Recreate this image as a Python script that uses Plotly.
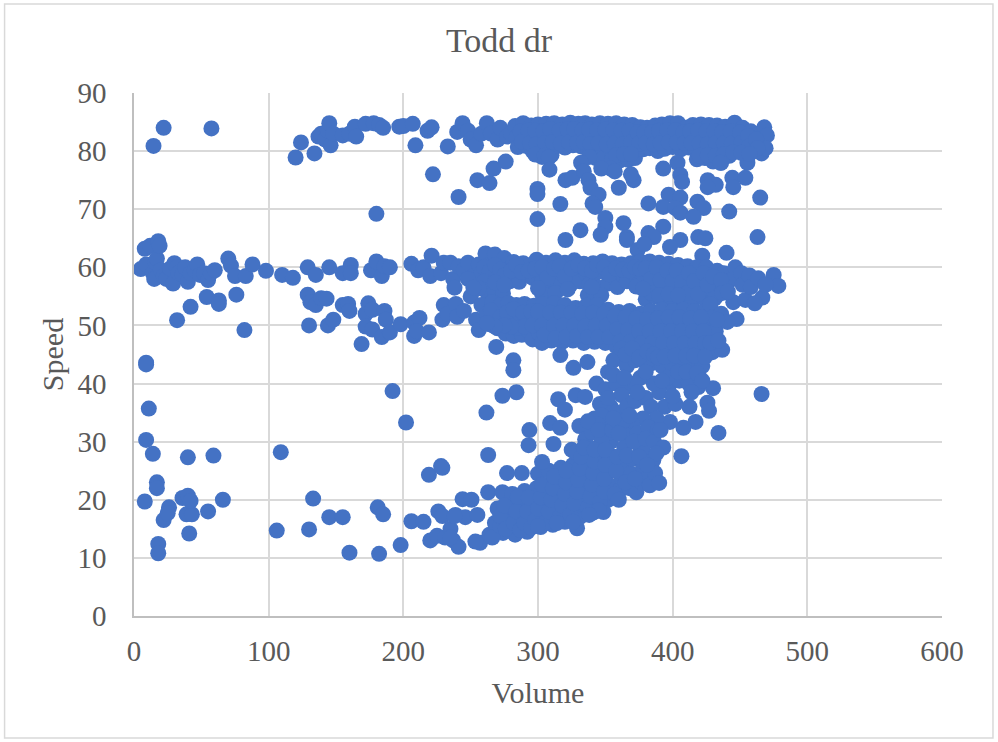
import plotly.graph_objects as go

TITLE = "Todd dr"
X_TITLE = "Volume"
Y_TITLE = "Speed"
X_TICKS = [0, 100, 200, 300, 400, 500, 600]
Y_TICKS = [0, 10, 20, 30, 40, 50, 60, 70, 80, 90]

top_sparse = [(14.5,80.9),(22,84),(57.5,83.9),(120,78.9),(124,81.5),(134,79.6),(137,82.5),(139,83),(142,82),(144,83.5),
(145,84.8),(146,81),(148,83),(155,82.7),(160,83),(164,84.2),(165,82.5),(172,84.7),(178,84.8),(182,84.5),(185,84),
(197,84.2),(200,84.3),(207,84.7),(209,81),(218,83.5),(221,84.1),(222,76),(233,80.8),(240,83.3),(241,72.1),(244,84.8),
(248,83.5),(250,82),(254,81),(255,75),(258,83),(262,84.8),(264,74.5),(265,83),(267,77),(270,82),(272,84),(276,78.2),
(277,82.5),(280,83)]

top_dense = [
(283,84.3),(284,82.4),(285,80.7),(289,84.8),(290,82.7),(291,80.9),(295,84.4),(296,82.2),(296,80),(300,84.6),(301,82.6),(302,80.2),
(303,79),(306,84.7),(307,82.3),(308,80.5),(310,79.3),(312,84.8),(313,82.8),(314,80.9),(318,84.6),(319,82.2),(320,80.6),
(324,84.9),(325,82.7),(326,81),(330,84.7),(331,82.4),(332,80.8),(335,84.8),(336,82.8),(337,80.4),(340,84.6),(341,82.2),
(342,80),(343,78.8),(346,84.8),(347,82.6),(348,80.3),(349,78.9),(352,84.7),(353,82.3),(354,80.1),(355,78.6),(358,84.8),
(359,82.7),(360,80),(361,78.4),(364,84.6),(365,82.3),(366,80.2),(367,78.5),(370,84.5),(371,82.6),(372,80.6),(372,78.8),
(376,84.1),(377,82),(378,80.3),(381,84),(382,82.5),(383,80.5),(387,84.4),(388,82.1),(389,80),(392,84.6),(393,82.6),
(394,80.4),(398,84.8),(399,82.2),(400,80.7),(404,84.8),(405,82.6),(406,80.3),(410,84),(411,82.2),(412,80.6),(415,84.5),
(416,82.4),(417,80.2),(418,78.6),(421,84.6),(422,82.7),(423,80),(424,78.8),(427,84.5),(428,82.1),(429,80.3),(430,78.2),
(433,84.4),(434,82.6),(435,80.5),(436,78),(439,84.2),(440,82.3),(441,80.2),(442,79.2),(446,84.9),(447,82.5),(448,80.4),
(452,84),(453,82.3),(454,80.6),(455.5,78),(458,83.4),(459,81.8),(460,80),(464,83),(465,81.3),(466,79.6),(468,84.1),
(470,82.7),(469,80.5)]

top_fill = [(287,83.4),(288,81.6),(293,83.6),(294,81.4),(298,83.5),(299,81.2),(304,83.4),(305,81.4),(309,83.8),(311,81.6),
(316,83.6),(317,81.3),(322,83.7),(323,81.5),(327,83.8),(329,81.4),(333,83.6),(334,81.6),(338,83.7),(339,81.2),(344,83.6),
(345,81.4),(350,83.7),(351,81.2),(356,83.6),(357,81.3),(362,83.5),(363,81.2),(368,83.5),(369,81.5),(374,83.2),(375,81.3),
(379,83.2),(380,81.4),(385,83.3),(386,81.2),(390,83.5),(391,81.4),(396,83.6),(397,81.5),(402,83.6),(403,81.5),(408,83.2),
(409,81.4),(413,83.4),(414,81.4),(419,83.6),(420,81.3),(425,83.4),(426,81.2),(431,83.4),(432,81.4),(437,83.3),(438,81.3),
(443,83.4),(444,81.3),(450,83.2),(451,81.4),(456,82.6),(457,80.9),(462,82),(463,80.5),(338,79),(358,79.3),(364,79.5),
(369,79.5),(420,79.2),(426,79.3),(432,79.2),(438,79.4),(445,79.8),(451,79.7),(457,79.5),(298,79.4),(305,79.2),(308,78.9)]

upper_gap = [(299.6,73.5),(299.6,72.6),(308.5,76.8),(316.6,70.9),(299.6,68.3),(320.4,75),(325.5,75.4),(332,78),(334,76.5),
(337.5,75),(339,73.7),(345,72.5),(340.5,71),(342.5,70.4),(350,68.5),(350,67),(346.5,65.6),(331.5,66.4),(320.4,64.7),
(354,77),(360,73.7),(371,75),(363.5,67.6),(366,65.2),(366,64.7),(382,71),(393,77),(403.6,78),(405.7,75.9),(407,74.7),
(397,72.5),(405.7,72),(393,70.4),(402,70.2),(405.7,69.4),(382,65.9),(393,67),(386,65.2),(405.7,64.7),(418.4,71.3),
(423,70.2),(415.5,68.7),(419,65.2),(424.3,65),(426,75),(432,74.2),(426,73.8),(442,69.6),(444.3,75.4),(454,75.4),
(445,73.8),(465,72),(463,65.2),(435.5,78),(440,62.5),(422,62),(347,77),(369,76),(374,63),(379,64),(398,63.5),(357,76.5)]

mid_left = [(5,59.7),(8,63.2),(9,60.5),(12,63.7),(14,59),(16,60.8),(15,58),(17,61.5),(18,64.5),(19,63.7),(20,59.5),(22,58.5),
(24,58),(27,59.8),(29,57.2),(30,60.7),(32,60),(33,59),(36,58.8),(38,60),(40,57.5),(42,59),(45,59.5),(47,60.5),(49,58.7),
(52,59),(55,57.8),(57,59),(60,59.5),(70,61.5),(72,60.3),(75,58.5),(83,58.5),(88,60.5),(98,59.4),(110,58.7),(118,58.2),
(129,60),(135,58.7),(145,60),(155,59),(161,60.4),(161,59),(176,59.5),(180,61),(184,58.5),(186,60.2),(190,60),(206,60.6),
(211,59.5),(215,60),(220,58.5),(221,62),(228,59),(230,60.8),(235,60.8),(237,58),(241,60.2),(245,59.5),(248,60.8),(252,58.5)]

mid_dense = [
(256,60.5),(258,59),(261,62.4),(263,60.3),(265,58.4),(268,62.2),(270,60),(272,58),(275,61.6),(277,59.6),(279,57.6),(282,60.9),
(284,59),(286,57.5),(289,60.7),(291,58.8),(294,60.3),(296,58.2),(299,61.3),(301,59.4),(303,57.6),(306,60.8),(308,59),
(310,57.2),(313,61.2),(315,59.4),(317,57.5),(320,60.8),(322,58.8),(324,57),(327,61.2),(329,59.3),(331,57.6),(334,60.6),
(336,58.9),(338,57),(341,60.7),(343,59),(345,56.5),(348,61),(350,59.2),(352,57.2),(355,60.7),(357,58.7),(359,56.6),
(362,60.5),(364,58.4),(366,57.6),(369,60.7),(371,59),(373,56.7),(376,61),(378,58.9),(380,56.5),(380,54.5),(383,61),
(385,59),(387,57),(387,55),(390,60.8),(392,58.7),(394,56.6),(394,54.3),(397,60.6),(399,58.5),(401,56.4),(401,54.4),
(404,60.4),(406,58.4),(408,56.3),(408,54.5),(411,60.2),(413,58),(415,56.2),(415,54.2),(418,60),(420,58.3),(422,56),(424,54.6),
(425,60),(427,58.1),(429,56),(433,59.4),(434,57.4),(433,55.2),(438,59),(440,57),(446.5,60),(445,58),(445,54),(451,59),
(452,57),(454,54.4),(457,58.6),(458,56.6),(463.6,58.1),(466.6,54.8),(461,53.8),(475,58.7),(478.5,56.8),(469,57)]

mid_fill = [(260,60),(264,59.3),(268,60.4),(272,59.6),(275,58.6),(280,59.4),(284,60.4),(288,59.2),(293,59.4),(298,59.8),(303,60),
(307,58.2),(312,59.8),(316,60.2),(320,58.4),(325,59.8),(330,60.4),(335,59.8),(340,59.4),(344,60.4),(349,60),(353,58.8),(358,59.8),
(363,59.6),(368,59.4),(372,60),(376,59.7),(380,59.8),(384,58),(388,60),(391,57.8),(396,59.4),(400,57.6),(403,59.4),(407,57.4),
(411,55.6),(412,59),(416,57.6),(419,55.4),(423,59),(426,57),(430,58.4),(436,57.8),(431,54.6),(437,55.6),(441,55.8),(303,55.5),
(309,55.3),(313,55.6),(262,55.8),(268,55.6),(274,55.5),(337,55.2),(342,55.4),(347,55.2),(384,55.6),(390,55.2),(397,55.4),
(404,55.2),(260,57.5),(268,57.4),(275,57),(300,56.4),(322,56.2),(340,56.6),(378,56.3),(256,56.4)]

band50_left = [(32,50.9),(42,53.2),(54,54.9),(63,54.3),(63,53.7),(76,55.3),(82,49.2),(129,55.3),(131,54),(130,50),(135,53.5),
(139,54.7),(143,54.6),(144,50),(148,51),(155,53.5),(159,53.7),(160,52.5),(169,46.8),(172,52),(172,49.8),(174,53.8),(177,52.7),
(177,49.3),(184,48),(186,52.5),(187,51),(190,48.8),(198,50.2),(208,50.5),(208,48.2),(212,51.3),(210,49),(219,48.8),(229,51),
(230,53.5),(233,52),(238,56.5),(239,53.7),(240,51.5),(245,52.5),(248,58),(250,55),(252,56.5),(254,51),(256,49.2),(258,53.5)]

band50_dense = [
(262,52),(264,50.2),(266,54),(268,51.5),(270,49.5),(272,53.5),(274,51),(276,48.6),(278,53.8),(280,51.2),(282,48.2),(284,53.5),
(286,50.8),(288,48.4),(290,53.7),(292,51.4),(294,48.8),(296,47.6),(297,53.4),(299,51),(301,48.6),(303,47),(304,53.7),
(306,51.2),(308,49),(310,47.4),(312,53.8),(314,51),(316,48.7),(318,47.2),(320,53.5),(322,51.3),(324,49),(326,47.4),
(328,53),(330,50.8),(332,48.6),(334,47),(336,53.4),(338,51),(340,48.8),(342,47.2),(344,53.5),(346,51.2),(348,49),(350,47),
(352,52.7),(354,50.7),(356,48.5),(358,46.4),(360,52.3),(362,50.3),(364,48),(366,46),(368,52.5),(370,50.2),(372,48),(374,46),
(376,52),(378,50),(380,48),(382,46),(384,52.5),(386,50),(388,48),(390,46),(392,52.7),(394,50.4),(396,48),(398,45.8),
(400,52.5),(402,50.2),(404,48),(406,46),(408,52.7),(410,50),(412,48),(414,45.8),(416,52.5),(418,50.3),(420,48.2),(421,45.8),
(424,52.5),(425,50.4),(426,48),(429.5,45.4),(428,53.6),(430,51.4),(432,49),(436.8,45.8),(436,52),(447.5,51.1),(440.6,50.6)]

band50_fill = [(265,52.6),(272,51.4),(277,52.2),(282,52.8),(285,49.6),(289,52.2),(290,49.8),(295,52.4),(296,50),(300,52.4),(303,50),
(305,48.4),(309,52.2),(312,50),(313,47.8),(317,52.2),(319,50),(321,48),(325,52.2),(327,50),(329,48.2),(333,52),(335,49.8),
(337,48),(341,52.2),(343,50),(345,48),(349,52),(351,50),(353,48),(357,51.6),(359,49.4),(361,47.2),(365,51.4),(367,49.2),
(369,47.2),(373,51.2),(375,49),(377,47),(381,51),(383,49),(385,47),(389,51.2),(391,49),(393,47),(397,51.4),(399,49),(401,47),
(405,51.4),(407,49),(409,47),(413,51.2),(415,49),(417,47),(421,51.4),(423,49),(424,47),(433,51),(428,47),(434,47.4),(280,49.8),
(275,50),(268,49.8),(262,50.4)]

lower_mid = [(269,46.3),(281.7,44),(281.7,42.3),(316.6,44.9),(326.3,42.7),(336.7,43.7),(284,38.5),(343.4,40),(466,38.2),
(273.6,37.9),(261.7,35),(293.6,32),(293,29.4),(263,27.7),(311.5,29.6),(330.7,32.7),(434,31.5),(406.5,27.5),(417,33.4),
(408,32.4),(398,33.4),(425.8,36.7),(427,35.3),(412.5,36),(430,39.2),(419,39.4),(315,37.3),(320,35.5),(328,38),(335,37.7),
(309,33.2),(316.6,32.4),(352,42),(356,44),(362,46),(350,39),(358,40),(366,43),(372,44),(378,44),(384,43.5),(392,43),
(400,43),(408,43.5),(416,43),(422,43),(398,40),(405,40.5),(412,40),(420,41),(390,38.5),(394,36),(402,36.5),(396,41),
(386,40),(376,41),(368,39.5),(362,38),(354,36),(346,36.5),(342,34),(350,33),(358,35),(366,36),(372,37),(380,37.5),
(384,36),(388,34),(378,34),(370,33),(362,31.5),(354,30)]

lower_fill = [(356,41.5),(365,45),(370,46),(375,44.5),(380,42),(381,45.5),(386,45),(389,44.5),
(394,44.6),(402,44.8),(404,42),(410,44.8),(410,42),(416,44.8),(418,41.8),(424,44.6),(422,40.5),(392,40.5),(372,40),
(364,41),(352,37.5),(347,34.5),(352,31.5),(357,32.5),(363,33.5),(368,34.5),(374,38.5),(367,31),(374,31.5),(382,32.5),(389,32),(376,29),
(335,30.4),(340,31.6),(329,27.6),(344,33),(325,28.6),(337,33.5),(400,37.8),(414,38.5)]

diag_blob = [
(244,20.1),(250.6,20),(238.7,17.4),(246,17),(255,17.4),(237,13),(241,11.9),(257,12.6),(253.5,12.8),(263,21.3),(273.6,21.3),(277,24.6),
(288,24.6),(329,15.1),(264,14),(268,16),(270,18.5),(274,14.3),(277,16.5),(279,19),(281,21),(283,14),(286,16.5),(288,19),
(290,21.5),(292,14.5),(295,17),(297,19.5),(299,22),(300,24.5),(302,15.3),(304,17.5),(306,20),(307,22.5),(308,25),(303,26.5),
(311,15.7),(313,18),(315,20.5),(316,23),(317,25.5),(320,16.2),(322,18.6),(324,21),(325,23.5),(326,26),(328,28.2),(331,17),
(333,19.2),(335,21.5),(336,24),(337,26.5),(338,29),(341,17.8),(343,20),(345,22.5),(345,25),(346,27.5),(347,30),(345,32),
(348.6,17.9),(352,20),(353,22.5),(354,25),(355,27.5),(355,32),(356,34),(361,21.7),(362,24),(363,26.5),(364,29),(368,22),
(369,24.5),(370,27),(371,30),(373,21.3),(377,23),(378,25.5),(379,28),(380,30.5),(382,24),(383,22.5),(385.6,26.8),(386,30),
(387,24.6),(390,22.9),(393,29),(388,28),(391,32)]

diag_fill = [(266,13.5),(272,15.5),(272,17.2),(276,15),(275,19),(282,16),(284,18),(285,20.5),(287,14.8),(290,16),(292,18),(293,20.4),
(295,15.2),(298,16.5),(300,18.5),(302,20.4),(303,22.6),(305,16),(308,18),(310,20),(311,22),(312,24),(316,17),(318,19),(320,21),
(321,23),(321,25),(324,17.4),(327,19.4),(329,21.4),(330,23.4),(331,25.4),(332,27.4),(334,29),(337,18.6),(339,20.6),(340,22.6),
(341,24.6),(342,26.6),(342,28.6),(346,19.6),(349,21.4),(349,23.6),(350,26),(350,28.6),(357,21),(358,25),(359,27.4),
(360,31.4),(365,23),(366,27.6),(372,23.6),(375,27.4),(381,26),(360,20),(345,18.2),
(338,17.4),(326,16.2),(314,16),(300,15.5)]

far_left = [(9,43.6),(9,43.3),(11,35.7),(9,30.3),(14,27.9),(8,19.7),(17,23),(17,22),(18,12.4),(18,10.8),(22,16.5),(26,18.7),(25,17.7),
(36,20.3),(40,20.7),(39,17.5),(43,17.5),(42,19.8),(40,27.3),(59,27.6),(41,14.2),(55,18),(66,20),(109,28.2),(106,14.7),(130,14.9),
(133,20.2),(145,17),(155,17),(160,10.9),(182,10.7),(198,12.2),(181,18.7),(185,17.5),(206,16.3),(215,16.2),(219,24.3),(228,25.8),
(229,25.5),(192,38.7),(202,33.3),(180,69.2),(220,13),(225,13.8),(226,18),(229,17.2),(231,13.5),(235,15),(235,13.5),(238,17.2)]

groups = [top_sparse, top_dense, top_fill, upper_gap, mid_left, mid_dense, mid_fill, band50_left, band50_dense, band50_fill,
          lower_mid, lower_fill, diag_blob, diag_fill, far_left]
volume = [p[0] for g in groups for p in g]
speed = [p[1] for g in groups for p in g]

W, H = 998, 742
L, R, T, B = 133.5, 942, 93, 616
serif = "Liberation Serif"

fig = go.Figure(go.Scatter(x=volume, y=speed, mode="markers",
    marker=dict(size=16, color="#4472C4", line=dict(width=0)), hoverinfo="skip"))

axis = dict(showgrid=True, gridcolor="#D9D9D9", gridwidth=1.5, zeroline=False, showline=True,
            linecolor="#BFBFBF", linewidth=1.5, ticks="", mirror=False)
fig.update_xaxes(range=[0, 600], tickvals=X_TICKS, ticktext=[str(v) for v in X_TICKS], ticklabelstandoff=8,
                 tickfont=dict(family=serif, size=29, color="#595959"),
                 title=dict(text=X_TITLE, font=dict(family=serif, size=30, color="#595959"), standoff=16), **axis)
fig.update_yaxes(range=[0, 90], tickvals=Y_TICKS, ticktext=[str(v) for v in Y_TICKS], ticklabelstandoff=20,
                 tickfont=dict(family=serif, size=29, color="#595959"),
                 title=dict(text=Y_TITLE, font=dict(family=serif, size=30, color="#595959"), standoff=5), **axis)

fig.update_layout(
    width=W, height=H, showlegend=False, paper_bgcolor="white", plot_bgcolor="white",
    margin=dict(l=L, r=W - R, t=T, b=H - B, autoexpand=False),
    title=dict(text=TITLE, font=dict(family=serif, size=34, color="#595959"),
               x=(445 + 553) / 2 / W, xanchor="center", y=1 - 40 / H, yanchor="middle"),
    shapes=[dict(type="rect", xref="paper", yref="paper",
                 x0=(4 - L) / (R - L), x1=(993 - L) / (R - L),
                 y0=(B - 738) / (B - T), y1=(B - 4) / (B - T),
                 line=dict(color="#D9D9D9", width=1.5), layer="below")],
)
fig.write_html("out.html", config={"displayModeBar": False},
               post_script="document.body.style.margin='0';document.body.style.overflow='hidden';")
